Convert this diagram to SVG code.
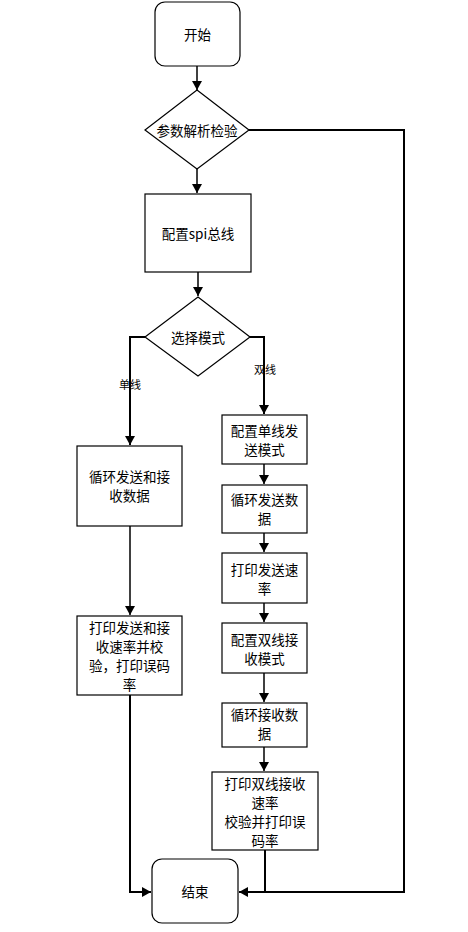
<svg xmlns="http://www.w3.org/2000/svg" width="468" height="932" viewBox="0 0 468 932">
<defs>
<marker id="arr" markerUnits="userSpaceOnUse" markerWidth="10" markerHeight="10" refX="9" refY="5" orient="auto">
<path d="M0,0 L9,5 L0,10 z" fill="#000"/>
</marker>
<style>
.box{fill:#fff;stroke:#000;stroke-width:1.2}
.t{font-family:"Noto Sans CJK SC","Noto Sans",sans-serif;font-size:13.5px;fill:#000;text-anchor:middle;dominant-baseline:central}
.lbl{font-family:"Noto Sans CJK SC","Noto Sans",sans-serif;font-size:11px;fill:#000;text-anchor:middle;dominant-baseline:central}
.c{fill:none;stroke:#000;stroke-width:2}
.cs{fill:none;stroke:#000;stroke-width:1.5}
</style>
</defs>
<rect width="468" height="932" fill="#fff"/>
<g id="connectors">
<path class="cs" d="M197,66 L197,90" marker-end="url(#arr)"/>
<path class="c" d="M249,130 L404,130 L404,892 L239,892" marker-end="url(#arr)"/>
<path class="cs" d="M197,169 L197,193" marker-end="url(#arr)"/>
<path class="cs" d="M198,272 L198,296" marker-end="url(#arr)"/>
<path class="c" d="M145,337 L130,337 L130,445" marker-end="url(#arr)"/>
<path class="c" d="M250,337 L264,337 L264,414" marker-end="url(#arr)"/>
<path class="cs" d="M264,464 L264,484" marker-end="url(#arr)"/>
<path class="cs" d="M264,533 L264,552" marker-end="url(#arr)"/>
<path class="cs" d="M264,603 L264,622" marker-end="url(#arr)"/>
<path class="cs" d="M264,673 L264,702" marker-end="url(#arr)"/>
<path class="cs" d="M264,747 L264,771" marker-end="url(#arr)"/>
<path class="cs" d="M130,526 L130,615" marker-end="url(#arr)"/>
<path class="c" d="M130,695 L130,892 L151,892" marker-end="url(#arr)"/>
<path class="c" d="M265,850 L265,892"/>
<g id="labels">
<text class="lbl" x="130" y="384">单线</text>
<text class="lbl" x="265" y="369">双线</text>
</g>
</g>
<g id="start">
<rect class="box" x="155" y="2" width="85" height="64" rx="10"/>
<text class="t" x="197.5" y="34">开始</text>
</g>
<g id="check">
<polygon class="box" points="197,90 249,130 197,169 145,130"/>
<text class="t" x="197" y="130">参数解析检验</text>
</g>
<g id="spi">
<rect class="box" x="145" y="194" width="106" height="78"/>
<text class="t" x="198" y="233">配置spi总线</text>
</g>
<g id="mode">
<polygon class="box" points="198,297 250,337 198,376 145,337"/>
<text class="t" x="198" y="337">选择模式</text>
</g>
<g id="single1">
<rect class="box" x="77" y="446" width="105" height="80"/>
<text class="t" x="129.5" y="476">循环发送和接</text>
<text class="t" x="129.5" y="495">收数据</text>
</g>
<g id="single2">
<rect class="box" x="77" y="616" width="105" height="79"/>
<text class="t" x="129.5" y="627">打印发送和接</text>
<text class="t" x="129.5" y="646">收速率并校</text>
<text class="t" x="129.5" y="665">验，打印误码</text>
<text class="t" x="129.5" y="684">率</text>
</g>
<g id="dual1">
<rect class="box" x="222" y="415" width="85" height="49"/>
<text class="t" x="264.5" y="430">配置单线发</text>
<text class="t" x="264.5" y="449">送模式</text>
</g>
<g id="dual2">
<rect class="box" x="222" y="485" width="85" height="48"/>
<text class="t" x="264.5" y="499">循环发送数</text>
<text class="t" x="264.5" y="518">据</text>
</g>
<g id="dual3">
<rect class="box" x="222" y="553" width="85" height="50"/>
<text class="t" x="264.5" y="569">打印发送速</text>
<text class="t" x="264.5" y="588">率</text>
</g>
<g id="dual4">
<rect class="box" x="222" y="623" width="85" height="50"/>
<text class="t" x="264.5" y="639">配置双线接</text>
<text class="t" x="264.5" y="658">收模式</text>
</g>
<g id="dual5">
<rect class="box" x="222" y="703" width="85" height="44"/>
<text class="t" x="264.5" y="714">循环接收数</text>
<text class="t" x="264.5" y="733">据</text>
</g>
<g id="dual6">
<rect class="box" x="212" y="772" width="106" height="78"/>
<text class="t" x="265" y="783">打印双线接收</text>
<text class="t" x="265" y="802">速率</text>
<text class="t" x="265" y="821">校验并打印误</text>
<text class="t" x="265" y="840">码率</text>
</g>
<g id="end">
<rect class="box" x="152" y="859" width="86" height="64" rx="10"/>
<text class="t" x="195" y="891">结束</text>
</g>
</svg>
